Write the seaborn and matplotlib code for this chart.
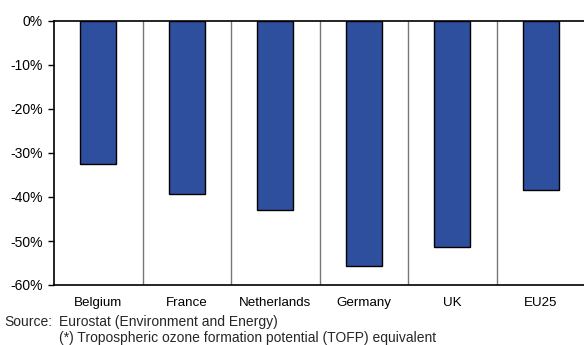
import matplotlib
matplotlib.use("Agg")
import matplotlib.pyplot as plt
import seaborn as sns
import pandas as pd

countries = ["Belgium", "France", "Netherlands", "Germany", "UK", "EU25"]
change_pct = [-32.4, -39.4, -43.0, -55.6, -51.3, -38.3]
y_ticks = [0, -10, -20, -30, -40, -50, -60]

df = pd.DataFrame({"country": countries, "change": change_pct})

sns.set_style("white")
plt.rcParams["font.family"] = ["Liberation Sans", "DejaVu Sans"]

fig = plt.figure(figsize=(5.84, 3.45), dpi=100)
ax = fig.add_axes([54 / 584, 1 - 285 / 345, 531 / 584, 264 / 345])

sns.barplot(data=df, x="country", y="change", color="#2E4E9E",
            width=0.41, edgecolor="black", linewidth=1.0, ax=ax, saturation=1)

# separators between categories
for i in range(1, len(countries)):
    ax.axvline(i - 0.5, color="#777777", linewidth=1.0, zorder=0)

ax.set_xlim(-0.5, len(countries) - 0.5)
ax.set_ylim(-60, 0)
ax.set_yticks(y_ticks)
ax.set_yticklabels([f"{t}%" for t in y_ticks])
ax.set_xlabel("")
ax.set_ylabel("")

for side in ["top", "bottom", "left"]:
    ax.spines[side].set_visible(True)
    ax.spines[side].set_color("black")
    ax.spines[side].set_linewidth(1.2)
ax.spines["right"].set_visible(False)

ax.tick_params(axis="y", which="major", left=True, direction="out", length=4,
               width=1, labelsize=10, pad=4, colors="black")
ax.tick_params(axis="x", bottom=False, labelsize=9.6, pad=5, colors="black")

fig.text(4 / 584, 1 - 322 / 345, "Source:", fontsize=10, va="center", ha="left")
fig.text(59 / 584, 1 - 322 / 345, "Eurostat (Environment and Energy)",
         fontsize=10, va="center", ha="left")
fig.text(59 / 584, 1 - 338 / 345,
         "(*) Tropospheric ozone formation potential (TOFP) equivalent",
         fontsize=10, va="center", ha="left")

fig.savefig("out.png", dpi=100)
